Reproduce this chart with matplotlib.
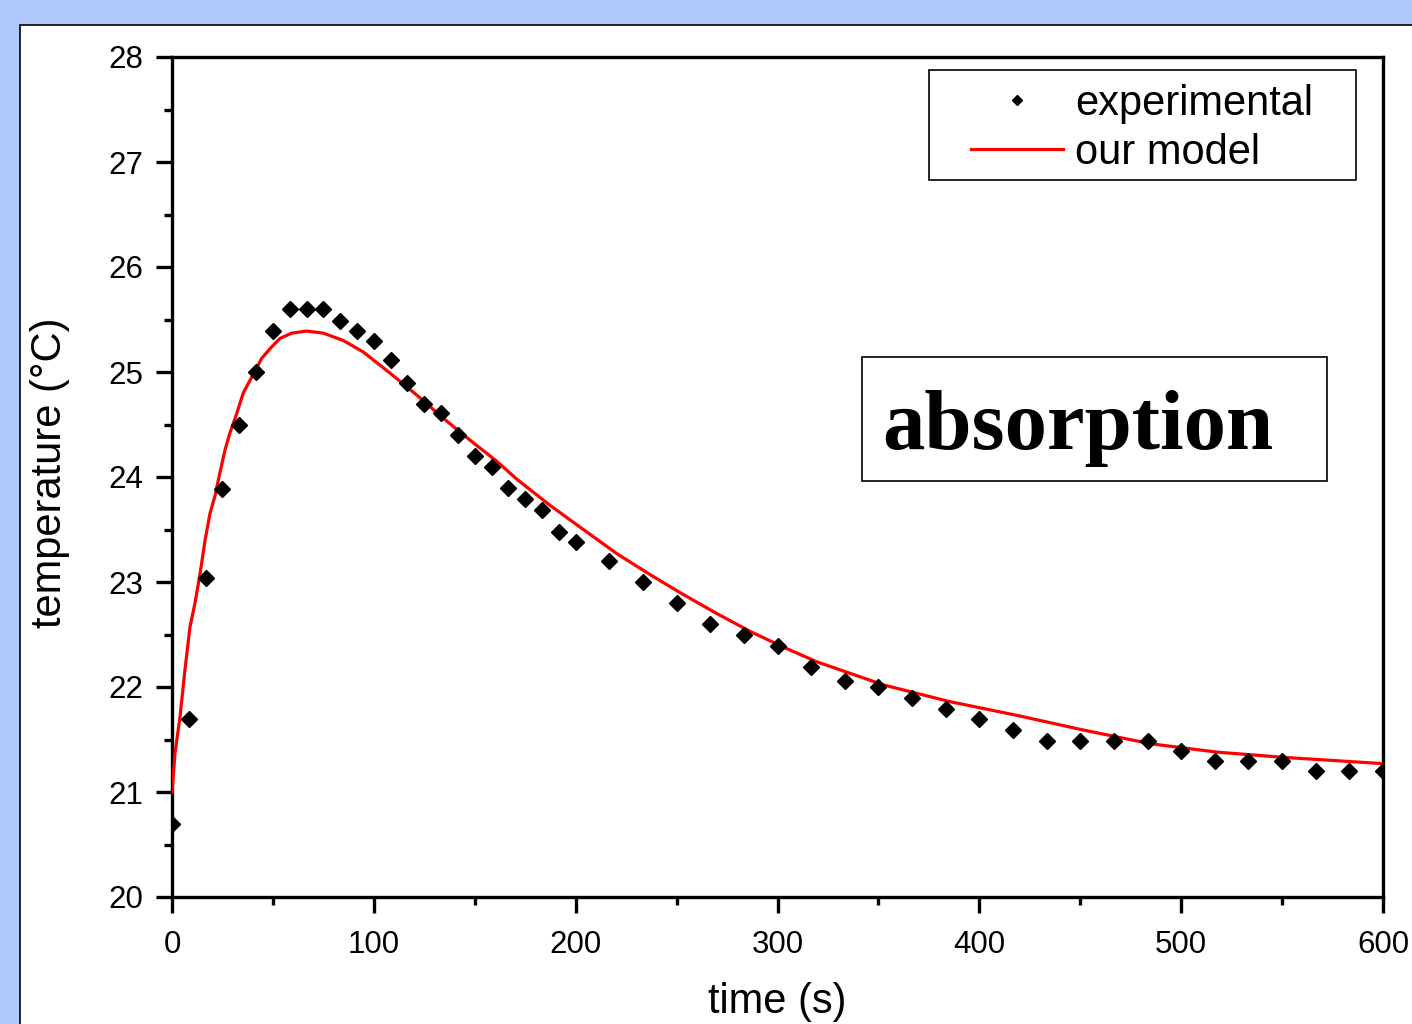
import matplotlib
matplotlib.use("Agg")
import matplotlib.pyplot as plt
from matplotlib.patches import Rectangle
from matplotlib.ticker import MultipleLocator

# ---------------- data ----------------
exp_time = [0, 8.33, 16.67, 25, 33.33, 41.67, 50, 58.33, 66.67, 75,
            83.33, 91.67, 100, 108.33, 116.67, 125, 133.33, 141.67, 150, 158.33,
            166.67, 175, 183.33, 191.67, 200,
            216.67, 233.33, 250, 266.67, 283.33, 300, 316.67, 333.33, 350, 366.67,
            383.33, 400, 416.67, 433.33, 450, 466.67, 483.33, 500, 516.67, 533.33,
            550, 566.67, 583.33, 600]
exp_temp = [20.7, 21.7, 23.04, 23.89, 24.5, 25.0, 25.39, 25.6, 25.6, 25.6,
            25.49, 25.39, 25.30, 25.11, 24.90, 24.70, 24.61, 24.40, 24.20, 24.10,
            23.90, 23.79, 23.69, 23.48, 23.38,
            23.2, 23.0, 22.8, 22.6, 22.5, 22.39, 22.19, 22.06, 22.0, 21.9,
            21.79, 21.70, 21.59, 21.49, 21.49, 21.49, 21.49, 21.39, 21.30, 21.30,
            21.30, 21.20, 21.20, 21.20]

model_time = [0, 1.5, 4, 6.4, 8.9, 11.4, 13.9, 16.4, 18.8, 21.3,
              23.5, 26.3, 28.7, 32, 35.3, 40.3, 44.4, 49.4, 53.5, 59.3,
              66.7, 75, 84.9, 94.8, 108, 121.3, 134.4, 147.7, 160.9, 170.8,
              187.3, 203.8, 220.4, 236.9, 253.4, 269.9, 286.4, 302.9, 319.5, 336,
              352.5, 369, 385.5, 418.6, 451.6, 484.6, 517.7, 550.7, 600]
model_temp = [21.0, 21.37, 21.72, 22.16, 22.57, 22.80, 23.08, 23.40, 23.65, 23.82,
              24.02, 24.26, 24.42, 24.60, 24.80, 24.98, 25.13, 25.24, 25.32, 25.37,
              25.39, 25.37, 25.30, 25.19, 24.99, 24.78, 24.56, 24.35, 24.15, 23.98,
              23.73, 23.50, 23.27, 23.07, 22.88, 22.70, 22.53, 22.38, 22.24, 22.13,
              22.02, 21.94, 21.86, 21.73, 21.59, 21.46, 21.38, 21.33, 21.27]

x_label = "time (s)"
y_label = "temperature (°C)"
series_labels = ["experimental", "our model"]
annotation = "absorption"

# ---------------- figure ----------------
W, H = 1412, 1024
fig = plt.figure(figsize=(W / 100, H / 100), dpi=100)
fig.patch.set_facecolor("#AEC8FB")

# white slide panel
fig.patches.append(Rectangle((20 / W, -0.01), 1.0, 1 - 25 / H + 0.01,
                             transform=fig.transFigure, facecolor="white",
                             edgecolor="#111111", linewidth=1.3, zorder=-5))

left, right = 172 / W, 1383 / W
bottom, top = 1 - 897 / H, 1 - 57 / H
ax = fig.add_axes([left, bottom, right - left, top - bottom])
ax.set_zorder(2)
ax.set_facecolor("white")

sans = ["Liberation Sans", "DejaVu Sans"]

ax.plot(model_time, model_temp, color="#FF0000", linewidth=2.3,
        label=series_labels[1], zorder=3)
ax.plot(exp_time, exp_temp, linestyle="none", marker="D", markersize=8,
        color="black", label=series_labels[0], zorder=4)

ax.set_xlim(0, 600)
ax.set_ylim(20, 28)
ax.xaxis.set_major_locator(MultipleLocator(100))
ax.xaxis.set_minor_locator(MultipleLocator(50))
ax.yaxis.set_major_locator(MultipleLocator(1))
ax.yaxis.set_minor_locator(MultipleLocator(0.5))

for s in ax.spines.values():
    s.set_linewidth(2.4)
    s.set_color("black")

ax.tick_params(which="major", direction="out", length=11.5, width=2.4,
               labelsize=22.5, color="black")
ax.tick_params(axis="x", which="major", pad=12)
ax.tick_params(axis="y", which="major", pad=9)
ax.tick_params(which="minor", direction="out", length=6, width=2.4,
               color="black")
for lab in ax.get_xticklabels() + ax.get_yticklabels():
    lab.set_family(sans)

ax.set_xlabel(x_label, fontsize=30, family=sans)
ax.set_ylabel(y_label, fontsize=30, family=sans)
ax.xaxis.set_label_coords(0.4996, -0.1015)
ax.yaxis.set_label_coords(-0.084, 0.505)

# legend (frameless, with separate box)
handles, labels = ax.get_legend_handles_labels()
order = [1, 0]
leg = ax.legend([handles[i] for i in order], [labels[i] for i in order],
                loc="upper left", bbox_to_anchor=(0.6598, 0.968),
                frameon=False, prop={"family": sans, "size": 30},
                handlelength=2.2, handletextpad=0.3, labelspacing=0.22,
                borderpad=0.0, borderaxespad=0.0, markerscale=0.65)
ax.add_patch(Rectangle(((929 - 172) / 1211, (897 - 180) / 840),
                       (1356 - 929) / 1211, (180 - 70) / 840,
                       transform=ax.transAxes, fill=False, edgecolor="black",
                       linewidth=1.2, zorder=5))

# annotation box
ax.add_patch(Rectangle(((862 - 172) / 1211, (897 - 481) / 840),
                       (1327 - 862) / 1211, (481 - 357) / 840,
                       transform=ax.transAxes, fill=False, edgecolor="black",
                       linewidth=1.2, zorder=5))
ax.text((882 - 172) / 1211, (897 - 449) / 840, annotation,
        transform=ax.transAxes, ha="left", va="baseline",
        fontsize=61, fontweight="bold",
        family=["Liberation Serif", "DejaVu Serif"], zorder=6)

fig.savefig("out.png", dpi=100, facecolor=fig.get_facecolor())
